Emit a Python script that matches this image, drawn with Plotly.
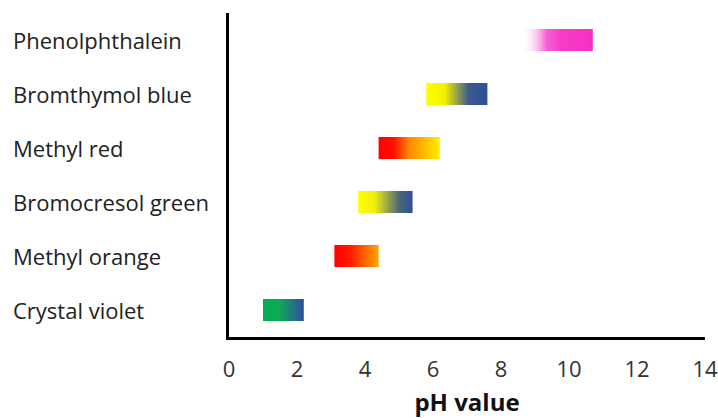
import plotly.graph_objects as go

indicators = ["Crystal violet", "Methyl orange", "Bromocresol green",
              "Methyl red", "Bromthymol blue", "Phenolphthalein"]
ph_start = [1.0, 3.1, 3.8, 4.4, 5.8, 8.6]
ph_end = [2.2, 4.4, 5.4, 6.2, 7.6, 10.7]
color_scales = [
    [[0, "#00b050"], [0.4, "#10a858"], [1, "#2f4f9e"]],
    [[0, "#ff0000"], [0.35, "#ff1a00"], [1, "#ffa500"]],
    [[0, "#ffff00"], [0.3, "#f0ee10"], [0.75, "#4a6878"], [1, "#2f4f9a"]],
    [[0, "#ff0000"], [0.25, "#ff1000"], [0.5, "#ff8800"], [1, "#ffee00"]],
    [[0, "#ffff00"], [0.3, "#f4f000"], [0.7, "#3a5890"], [1, "#2f4f9a"]],
    [[0, "rgba(255,255,255,0)"], [0.35, "#f760d4"], [0.55, "#f73cc8"], [1, "#f530c4"]],
]
x_ticks = [0, 2, 4, 6, 8, 10, 12, 14]
bar_half = 0.205

fig = go.Figure()
for i, name in enumerate(indicators):
    x0, x1 = ph_start[i], ph_end[i]
    fig.add_trace(go.Scatter(
        x=[x0, x1, x1, x0, x0],
        y=[i - bar_half, i - bar_half, i + bar_half, i + bar_half, i - bar_half],
        mode="lines", line=dict(width=0),
        fill="toself",
        fillgradient=dict(type="horizontal", colorscale=color_scales[i]),
        hoverinfo="skip", showlegend=False,
    ))

FW, FH = 718, 418
L, R, T, B = 229, 13, 13, 81
W = FW - L - R
for i, name in enumerate(indicators):
    fig.add_annotation(
        xref="paper", yref="y", x=(11 - L) / W, y=i, text=name,
        xanchor="left", yanchor="middle", showarrow=False,
        font=dict(family="Open Sans", size=22, color="#222222"),
    )

fig.update_layout(
    width=FW, height=FH,
    margin=dict(l=L, r=R, t=T, b=B),
    paper_bgcolor="white", plot_bgcolor="white",
    xaxis=dict(range=[0, 14], tickvals=x_ticks, ticktext=[str(v) for v in x_ticks],
               showgrid=False, zeroline=False, showline=True, linecolor="black",
               linewidth=3, ticks="", ticklabelstandoff=11,
               ticklabeloverflow="allow", automargin=False,
               tickfont=dict(family="Open Sans", size=22, color="#333333"),
               title=dict(text="<b>pH value</b>", standoff=15,
                          font=dict(family="Open Sans", size=24, color="#111111"))),
    yaxis=dict(range=[-0.5, 5.5], showgrid=False, zeroline=False, showticklabels=False,
               showline=True, linecolor="black", linewidth=3, ticks="",
               automargin=False),
)

# remove the page's default body margin so the figure fills the window exactly
post = (
    "document.body.style.margin='0';"
    "var gd=document.getElementById('{plot_id}');"
    "gd.style.width='718px';gd.style.height='418px';"
    "Plotly.relayout(gd,{width:718,height:418});"
)
fig.write_html("out.html", post_script=post, config={"displayModeBar": False})
